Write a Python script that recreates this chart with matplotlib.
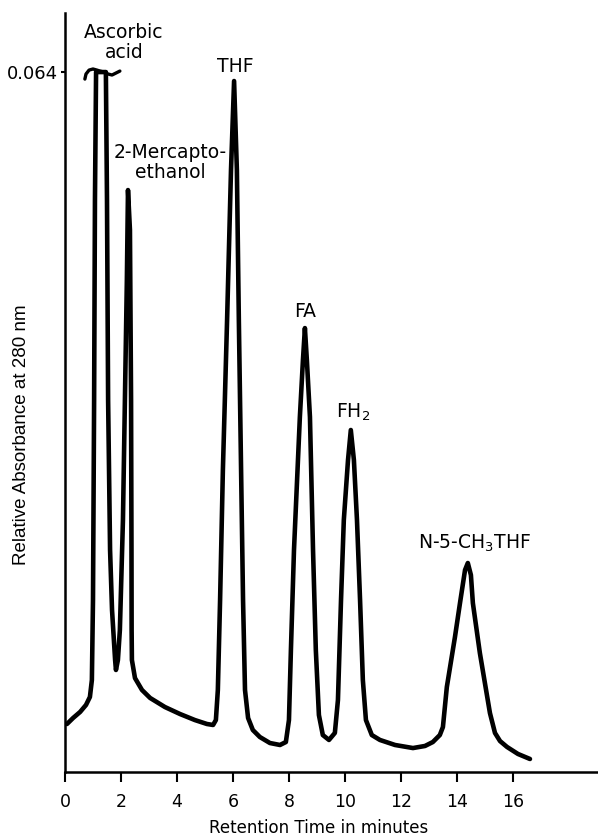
import matplotlib
matplotlib.use("Agg")
import matplotlib.pyplot as plt

plt.rcParams['font.family'] = ['DejaVu Sans']
plt.rcParams['mathtext.default'] = 'regular'

# Chromatogram trace: retention time (min) and absorbance
time_min = [0.07, 0.29, 0.54, 0.75, 0.89, 0.96, 1.00, 1.04, 1.07, 1.11, 1.46, 1.50,
            1.54, 1.61, 1.68, 1.79, 1.82, 1.89, 1.96, 2.07, 2.14, 2.21, 2.25, 2.32,
            2.36, 2.375, 2.38, 2.39, 2.50, 2.75, 3.04, 3.57, 4.11, 4.64, 5.07, 5.29,
            5.39, 5.46, 5.54, 5.64, 5.79, 5.93, 6.04, 6.14, 6.21, 6.29, 6.36, 6.43,
            6.54, 6.71, 6.96, 7.32, 7.68, 7.89, 8.00, 8.07, 8.18, 8.39, 8.50, 8.57,
            8.64, 8.75, 8.86, 8.96, 9.07, 9.21, 9.43, 9.64, 9.75, 9.86, 9.96, 10.11,
            10.21, 10.32, 10.43, 10.54, 10.64, 10.75, 10.96, 11.25, 11.79, 12.43, 12.86,
            13.14, 13.39, 13.50, 13.64, 13.93, 14.11, 14.29, 14.39, 14.50, 14.57, 14.82,
            15.18, 15.36, 15.54, 15.79, 16.18, 16.61]
absorbance = [0.00439, 0.00494, 0.00549, 0.00613, 0.00686, 0.00841, 0.01573, 0.03401,
              0.05230, 0.0640, 0.0640, 0.05230, 0.03401, 0.02030, 0.01481, 0.01024,
              0.00933, 0.01024, 0.01298, 0.02304, 0.03401, 0.04498, 0.05321, 0.04956,
              0.03401, 0.02030, 0.01298, 0.01024, 0.00859, 0.00750, 0.00677, 0.00594,
              0.00530, 0.00475, 0.00439, 0.00430, 0.00475, 0.00750, 0.01573, 0.02761,
              0.04133, 0.05504, 0.06318, 0.05504, 0.04133, 0.02761, 0.01573, 0.00750,
              0.00494, 0.00384, 0.00320, 0.00265, 0.00247, 0.00274, 0.00475, 0.01115,
              0.02030, 0.03246, 0.03767, 0.04059, 0.03767, 0.03246, 0.02030, 0.01115,
              0.00521, 0.00338, 0.00293, 0.00357, 0.00658, 0.01573, 0.02304, 0.02853,
              0.03127, 0.02853, 0.02304, 0.01573, 0.00841, 0.00475, 0.00338, 0.00293,
              0.00247, 0.00219, 0.00238, 0.00274, 0.00338, 0.00411, 0.00777, 0.01234,
              0.01545, 0.01847, 0.01911, 0.01801, 0.01545, 0.01088, 0.00539, 0.00357,
              0.00283, 0.00229, 0.00165, 0.00119]

# Pen overshoot squiggle at the off-scale ascorbic acid peak
cap_time = [0.71, 0.75, 0.86, 1.00, 1.14, 1.25, 1.39, 1.54, 1.68, 1.82, 1.96]
cap_abs = [0.06336, 0.06382, 0.06418, 0.06428, 0.06418, 0.06409, 0.06400, 0.06382,
           0.06373, 0.06391, 0.06409]

x_ticks = [0, 2, 4, 6, 8, 10, 12, 14, 16]
y_ticks = [0.064]
y_tick_labels = ['0.064']

peak_labels = ['Ascorbic\nacid', '2-Mercapto-\nethanol', 'THF', 'FA', 'FH$_2$', 'N-5-CH$_3$THF']
label_time = [2.10, 3.75, 6.07, 8.57, 10.30, 14.64]
label_abs = [0.0667, 0.0557, 0.0645, 0.0421, 0.0329, 0.0209]

fig = plt.figure(figsize=(5.98, 8.39), dpi=100)
ax = fig.add_axes([65 / 598, (839 - 772) / 839, (598 - 65) / 598, (772 - 13) / 839])

ax.plot(time_min, absorbance, color='black', lw=3.3, solid_joinstyle='round', solid_capstyle='round')
ax.plot(cap_time, cap_abs, color='black', lw=2.4, solid_capstyle='round')

ax.set_xlim(0, 19.04)
ax.set_ylim(0, 0.0694)

for s in ['top', 'right']:
    ax.spines[s].set_visible(False)
for s in ['left', 'bottom']:
    ax.spines[s].set_linewidth(1.8)
    ax.spines[s].set_color('black')

ax.set_xticks(x_ticks)
ax.set_xticklabels([str(v) for v in x_ticks])
ax.set_yticks(y_ticks)
ax.set_yticklabels(y_tick_labels)
ax.tick_params(axis='x', direction='out', length=7, width=1.5, pad=8, labelsize=12.5)
ax.tick_params(axis='y', direction='out', length=3, width=1.5, pad=2, labelsize=13)

ax.set_xlabel('Retention Time in minutes', fontsize=12)
ax.xaxis.set_label_coords((319 - 65) / 533, -(819 - 772) / 759)
fig.text(22 / 598, 1 - 435 / 839, 'Relative Absorbance at 280 nm', rotation=90,
         ha='center', va='center', fontsize=13.5, family=['Liberation Sans Narrow', 'Liberation Sans'])

for lab, t, a in zip(peak_labels, label_time, label_abs):
    ax.text(t, a, lab, ha='center', va='center', fontsize=13.5, linespacing=1.05)

fig.savefig('out.png', dpi=100)
